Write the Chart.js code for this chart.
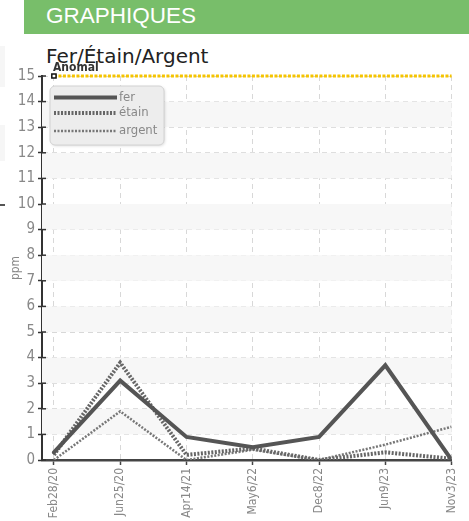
<!DOCTYPE html>
<html>
<head>
<meta charset="utf-8">
<script src="https://cdn.jsdelivr.net/npm/chart.js@4/dist/chart.umd.min.js"></script>
<style>
    body { margin: 0; background: #fff; width: 469px; height: 521px; overflow: hidden; position: relative; font-family: 'Liberation Sans', Arial, sans-serif; }
    .header { position: absolute; left: 24px; top: 0; width: 445px; height: 34px; background: #78be6a; }
    .header span { position: absolute; left: 22px; top: 5px; color: #fff; font-size: 22.5px; line-height: 1; }
    .titre { position: absolute; left: 46px; top: 46px; font-family: 'DejaVu Sans', sans-serif; font-size: 20px; color: #222; line-height: 1; }
    .bord { position: absolute; left: 0; width: 5px; background: #f6f6f6; }
    #chartBox { position: absolute; left: 0; top: 60px; }
</style>
</head>
<body>
<div class="header"><span>GRAPHIQUES</span></div>
<div class="bord" style="top:46px;height:41px"></div>
<div class="bord" style="top:125px;height:36px"></div>
<div class="bord" style="top:204px;height:2px;background:#555"></div>
<div class="titre">Fer/Étain/Argent</div>
<canvas id="chartBox" width="469" height="461"></canvas>
<script>
// Données
const categories = ['Feb28/20', 'Jun25/20', 'Apr14/21', 'May6/22', 'Dec8/22', 'Jun9/23', 'Nov3/23'];
const ferValues = [0.3, 3.1, 0.9, 0.5, 0.9, 3.7, 0];
const etainValues = [0.2, 3.8, 0.2, 0.45, 0, 0.3, 0.05];
const argentValues = [0, 1.9, 0, 0.4, 0, 0.6, 1.3];
const anomalValues = [15, 15, 15, 15, 15, 15, 15];
const yTicks = [0, 1, 2, 3, 4, 5, 6, 7, 8, 9, 10, 11, 12, 13, 14, 15];

const condensed = "'DejaVu Sans Condensed', 'Liberation Sans Narrow', sans-serif";

function toPoints(values) {
    return values.map((v, i) => ({ x: i, y: v }));
}

// bandes grises alternées
const bandesPlugin = {
    id: 'bandes',
    beforeDatasetsDraw(chart) {
        const { ctx, chartArea, scales } = chart;
        ctx.save();
        ctx.fillStyle = '#f7f7f7';
        for (let k = 1; k < 15; k += 2) {
            const yTop = scales.y.getPixelForValue(k + 1);
            const yBot = scales.y.getPixelForValue(k);
            ctx.fillRect(chartArea.left, yTop, chartArea.right - chartArea.left, yBot - yTop);
        }
        ctx.restore();
    }
};

// légende, ticks intérieurs et étiquette "Anomal"
const extrasPlugin = {
    id: 'extras',
    afterDraw(chart) {
        const { ctx, chartArea, scales } = chart;
        ctx.save();
        // petits ticks à droite de l'axe Y
        ctx.strokeStyle = '#333';
        ctx.lineWidth = 1.5;
        yTicks.forEach(t => {
            const y = scales.y.getPixelForValue(t);
            ctx.beginPath();
            ctx.moveTo(chartArea.left, y);
            ctx.lineTo(chartArea.left + 4, y);
            ctx.stroke();
        });
        // étiquette Anomal
        const ax = scales.x.getPixelForValue(0);
        const ay = scales.y.getPixelForValue(anomalValues[0]);
        ctx.font = "bold 12px " + condensed;
        ctx.fillStyle = '#333';
        ctx.textBaseline = 'bottom';
        ctx.fillText('Anomal', ax - 1, ay - 2);
        // légende
        const bx = 50, by = 26, bw = 114, bh = 59;
        ctx.shadowColor = 'rgba(0,0,0,0.15)';
        ctx.shadowBlur = 3;
        ctx.shadowOffsetX = 1;
        ctx.shadowOffsetY = 1;
        ctx.fillStyle = '#ededed';
        ctx.beginPath();
        ctx.roundRect(bx, by, bw, bh, 5);
        ctx.fill();
        ctx.shadowColor = 'transparent';
        ctx.strokeStyle = '#d2d2d2';
        ctx.lineWidth = 1;
        ctx.stroke();
        const rows = [37.5, 53, 71];
        chart.data.datasets.slice(0, 3).forEach((ds, i) => {
            ctx.beginPath();
            ctx.strokeStyle = ds.borderColor;
            ctx.lineWidth = ds.borderWidth;
            ctx.setLineDash(ds.borderDash || []);
            ctx.moveTo(54, rows[i]);
            ctx.lineTo(117, rows[i]);
            ctx.stroke();
            ctx.setLineDash([]);
            ctx.font = "13px " + condensed;
            ctx.fillStyle = '#888';
            ctx.textBaseline = 'middle';
            ctx.fillText(ds.label, 119, rows[i]);
        });
        ctx.restore();
    }
};

new Chart(document.getElementById('chartBox'), {
    type: 'line',
    data: {
        datasets: [
            { label: 'fer', data: toPoints(ferValues), borderColor: '#555', borderWidth: 4, pointRadius: 0, borderCapStyle: 'round' },
            { label: 'étain', data: toPoints(etainValues), borderColor: '#666', borderWidth: 4, borderDash: [2, 1.5], pointRadius: 0 },
            { label: 'argent', data: toPoints(argentValues), borderColor: '#777', borderWidth: 2.5, borderDash: [2, 1.5], pointRadius: 0 },
            {
                label: 'Anomal', data: toPoints(anomalValues), borderColor: '#f5c400', borderWidth: 3, borderDash: [3, 1.5],
                pointRadius: [3, 0, 0, 0, 0, 0, 0], pointStyle: 'rect', pointBackgroundColor: '#fff', pointBorderColor: '#111', pointBorderWidth: 1.5,
                clip: false
            }
        ]
    },
    options: {
        responsive: false,
        animation: false,
        layout: { padding: { top: 16, right: 4, left: 0, bottom: 0 } },
        plugins: { legend: { display: false }, tooltip: { enabled: false } },
        scales: {
            x: {
                type: 'linear',
                min: -0.18,
                max: 6,
                afterBuildTicks(scale) { scale.ticks = categories.map((c, i) => ({ value: i })); },
                afterFit(scale) { scale.height = 61; },
                ticks: {
                    autoSkip: false,
                    minRotation: 90,
                    maxRotation: 90,
                    color: '#888',
                    font: { family: condensed, size: 12 },
                    callback: v => categories[v]
                },
                grid: { color: '#d8d8d8', tickColor: '#444', tickBorderDash: [], tickLength: 5, tickWidth: 1.5 },
                border: { color: '#444', width: 2.5, dash: [5, 4] }
            },
            y: {
                min: 0,
                max: 15,
                afterBuildTicks(scale) { scale.ticks = yTicks.map(v => ({ value: v })); },
                afterFit(scale) { scale.width = 42; },
                ticks: { color: '#888', font: { family: condensed, size: 15 }, padding: 3 },
                title: { display: true, text: 'ppm', color: '#888', font: { family: condensed, size: 12 }, padding: { top: 9, bottom: 0 } },
                grid: { color: '#d8d8d8', tickColor: '#333', tickBorderDash: [], tickLength: 4, tickWidth: 1.5 },
                border: { color: '#333', width: 2, dash: [5, 4] }
            }
        }
    },
    plugins: [bandesPlugin, extrasPlugin]
});
</script>
</body>
</html>
